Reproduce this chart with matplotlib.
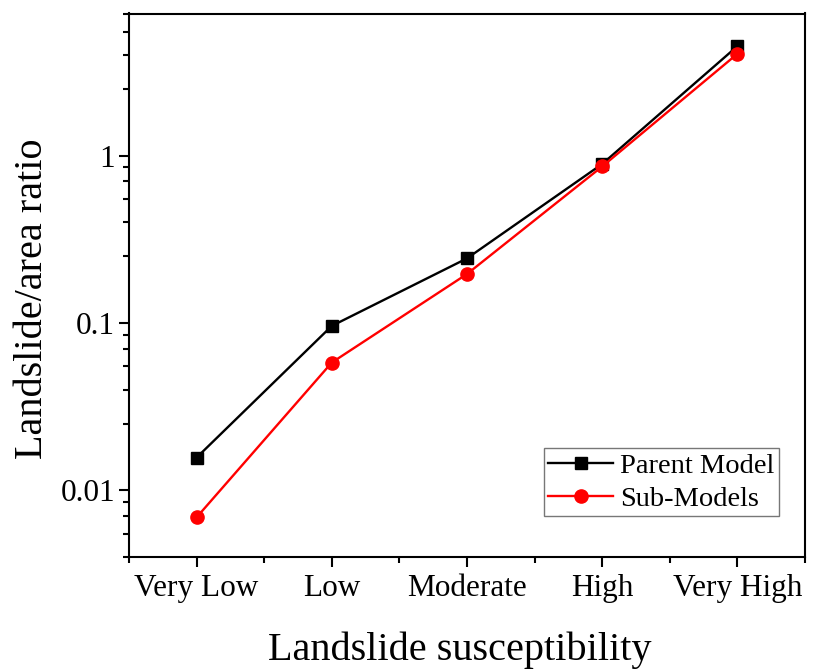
import matplotlib
matplotlib.use("Agg")
import matplotlib.pyplot as plt
from matplotlib.ticker import FixedLocator, NullFormatter
import numpy as np

categories = ["Very Low", "Low", "Moderate", "High", "Very High"]
parent_model = [0.0157, 0.096, 0.243, 0.89, 4.5]
sub_models = [0.0069, 0.058, 0.196, 0.86, 4.05]

plt.rcParams['font.family'] = ['Liberation Serif', 'DejaVu Serif']

fig = plt.figure(figsize=(8.21, 6.70), dpi=100)
ax = fig.add_axes([129/821, (670-557)/670, (805-129)/821, (557-13.5)/670])

x = np.arange(len(categories))
ax.plot(x, parent_model, color='black', lw=1.7, marker='s', ms=8.4, label='Parent Model')
ax.plot(x, sub_models, color='red', lw=1.7, marker='o', ms=9.5, label='Sub-Models')

ax.set_yscale('log')
ax.set_ylim(0.004, 7.05)
ax.set_xlim(-0.5, 4.5)

ax.set_xticks(x)
ax.set_xticklabels(categories)
ax.xaxis.set_minor_locator(FixedLocator(np.arange(-0.5, 4.6, 1.0)))

ax.yaxis.set_major_locator(FixedLocator([0.01, 0.1, 1]))
ax.set_yticklabels(["0.01", "0.1", "1"])
minors = []
for dec in [0.001, 0.01, 0.1, 1]:
    for k in [2.5, 4, 5.5, 7, 8.5]:
        minors.append(k * dec)
ax.yaxis.set_minor_locator(FixedLocator(minors))
ax.yaxis.set_minor_formatter(NullFormatter())

for s in ax.spines.values():
    s.set_linewidth(1.5)
ax.tick_params(axis='both', which='major', direction='out', length=7, width=1.5, labelsize=22.5, pad=5)
ax.tick_params(axis='y', which='major', pad=3)
ax.tick_params(axis='both', which='minor', direction='out', length=4, width=1.5)
ax.tick_params(axis='x', which='minor', length=4.5)

ax.set_xlabel("Landslide susceptibility", fontsize=29)
ax.xaxis.set_label_coords((460 - 129) / 676, -(660 - 557) / 543.5, transform=ax.transAxes)
ax.xaxis.label.set_va('baseline')
ax.set_ylabel("Landslide/area ratio", fontsize=29)
ax.yaxis.set_label_coords(-(129 - 33) / 676, 0.5 - (298.5 - 285) / 543.5)
ax.yaxis.label.set_va('center')

leg = ax.legend(loc='lower right', bbox_to_anchor=(1 - 26/676, 41/543.5), fontsize=20.5,
                frameon=True, fancybox=False, edgecolor='#555555', borderpad=0.15,
                handlelength=2.3, handletextpad=0.25, labelspacing=0.25, borderaxespad=0)
leg.get_frame().set_linewidth(1.0)

fig.savefig("out.png", dpi=100)
